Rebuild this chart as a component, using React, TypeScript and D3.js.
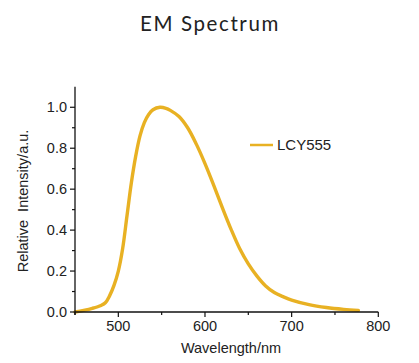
import React from "react";
import * as d3 from "d3";

const wavelengths = [450, 460, 470, 480, 485, 490, 495, 500, 505, 510, 515, 520, 525, 530, 535, 540, 548, 555, 560, 570, 580, 590, 600, 610, 620, 630, 640, 650, 660, 670, 680, 690, 700, 720, 740, 760, 777];
const intensity = [0.0, 0.008, 0.018, 0.032, 0.045, 0.08, 0.13, 0.2, 0.31, 0.47, 0.63, 0.76, 0.86, 0.925, 0.965, 0.988, 1.0, 0.995, 0.985, 0.955, 0.9, 0.82, 0.725, 0.62, 0.51, 0.405, 0.31, 0.235, 0.175, 0.127, 0.095, 0.075, 0.058, 0.036, 0.022, 0.013, 0.008];
const xMajor = [500, 600, 700, 800];
const xMinor = [450, 550, 650, 750];
const yMajor = [0, 0.2, 0.4, 0.6, 0.8, 1.0];
const yMinor = [0.1, 0.3, 0.5, 0.7, 0.9];
const seriesName = "LCY555";
const title = "EM Spectrum";

export default function App() {
  const W = 419, H = 363;
  const x = d3.scaleLinear().domain([450, 800]).range([75, 378.3]);
  const y = d3.scaleLinear().domain([0, 1.1]).range([312, 86.8]);
  const data = wavelengths.map((w, i) => [w, intensity[i]] as [number, number]);
  const line = d3.line<[number, number]>().x(d => x(d[0])).y(d => y(d[1])).curve(d3.curveCatmullRom.alpha(0.5));
  const color = "#E8B123";
  const font = "'Liberation Sans', Arial, sans-serif";
  return (
    <svg width={W} height={H} style={{ position: "absolute", left: 0, top: 0, background: "#fff" }}>
      <text x={210} y={31} textAnchor="middle" fontFamily="Lato, 'Open Sans', sans-serif" fontSize={20.5} letterSpacing={1.6} fill="#222">{title}</text>
      <path d={line(data) || ""} fill="none" stroke={color} strokeWidth={3.4} strokeLinejoin="round" strokeLinecap="round" />
      <line x1={x(450)} x2={x(800)} y1={y(0)} y2={y(0)} stroke="#111" strokeWidth={1.3} />
      <line x1={x(450)} x2={x(450)} y1={y(1.1)} y2={y(0) + 3} stroke="#111" strokeWidth={1.3} />
      {xMajor.map(v => (
        <g key={"xM" + v}>
          <line x1={x(v)} x2={x(v)} y1={y(0)} y2={y(0) + 5} stroke="#111" strokeWidth={1.2} />
          <text x={x(v)} y={331} textAnchor="middle" fontFamily={font} fontSize={14.5} fill="#222">{v}</text>
        </g>
      ))}
      {xMinor.map(v => (
        <line key={"xm" + v} x1={x(v)} x2={x(v)} y1={y(0)} y2={y(0) + 3} stroke="#111" strokeWidth={1.2} />
      ))}
      {yMajor.map(v => (
        <g key={"yM" + v}>
          <line x1={x(450) - 5} x2={x(450)} y1={y(v)} y2={y(v)} stroke="#111" strokeWidth={1.2} />
          <text x={67} y={y(v) + 5} textAnchor="end" fontFamily={font} fontSize={14.5} fill="#222">{v.toFixed(1)}</text>
        </g>
      ))}
      {yMinor.map(v => (
        <line key={"ym" + v} x1={x(450) - 3} x2={x(450)} y1={y(v)} y2={y(v)} stroke="#111" strokeWidth={1.2} />
      ))}
      <text x={231} y={353} textAnchor="middle" fontFamily={font} fontSize={14.5} fill="#222">Wavelength/nm</text>
      <text transform="translate(28,201) rotate(-90)" textAnchor="middle" fontFamily={font} fontSize={14.5} fill="#222" style={{ whiteSpace: "pre" }}>{"Relative  Intensity/a.u."}</text>
      <line x1={250} x2={273} y1={145} y2={145} stroke={color} strokeWidth={2.5} />
      <text x={277} y={150} fontFamily={font} fontSize={15} fill="#222">{seriesName}</text>
    </svg>
  );
}
